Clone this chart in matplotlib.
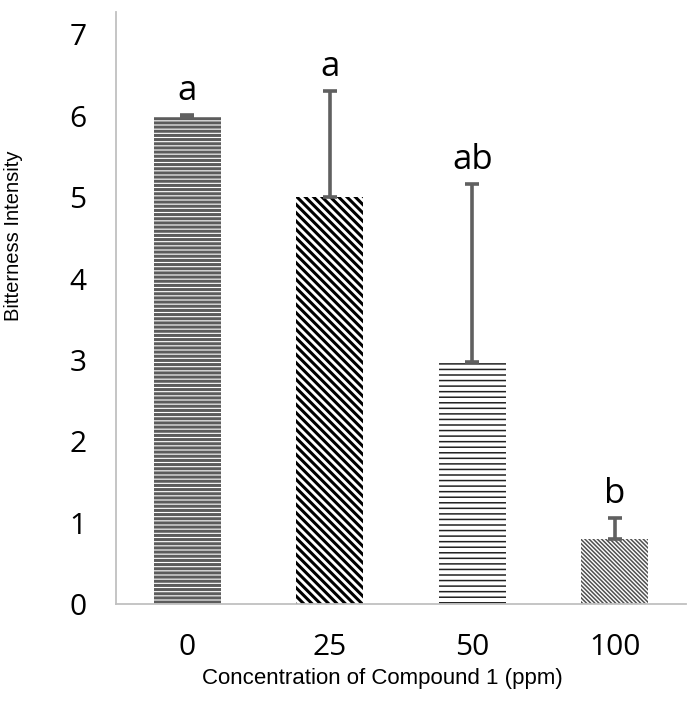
import matplotlib.pyplot as plt

# Data
concentrations = ["0", "25", "50", "100"]
intensity = [5.98, 5.0, 2.98, 0.8]
err_upper = [0.03, 1.3, 2.18, 0.26]
letters = ["a", "a", "ab", "b"]

# hatch style per bar: (pattern, line colour, line width)
hatches = [("----", "#5c5c5c", 2.2),
           ("\\\\\\\\", "black", 2.2),
           ("---", "#222222", 1.1),
           ("\\" * 8, "#505050", 1.1)]

fig = plt.figure(figsize=(6.89, 7.22), dpi=100)
ax = fig.add_axes([0.168, 0.163, 0.828, 0.820])

x = range(len(concentrations))
for i in x:
    pat, col, lw = hatches[i]
    with plt.rc_context({"hatch.linewidth": lw, "hatch.color": col}):
        b = ax.bar(i, intensity[i], width=0.47, color="white",
                   edgecolor=col, linewidth=0, hatch=pat)
    for p in b:
        if hasattr(p, "set_hatch_linewidth"):
            p.set_hatch_linewidth(lw)

ax.errorbar(list(x), intensity, yerr=[[0] * 4, err_upper], fmt="none",
            ecolor="#606060", elinewidth=2.6, capsize=5, capthick=2.6)

for i in x:
    ax.annotate(letters[i], (i, intensity[i] + err_upper[i]),
                xytext=(0, 11), textcoords="offset points",
                ha="center", va="baseline", fontsize=25,
                family="Open Sans")

ax.set_xlim(-0.5, 3.5)
ax.set_ylim(0, 7.27)
ax.set_yticks(range(8))
ax.set_xticks(list(x))
ax.set_xticklabels(concentrations)
ax.tick_params(length=0, labelsize=21.5)
ax.tick_params(axis="x", pad=21)
ax.tick_params(axis="y", pad=21)
for lab in ax.get_xticklabels() + ax.get_yticklabels():
    lab.set_family("Open Sans")

for s in ["top", "right"]:
    ax.spines[s].set_visible(False)
for s in ["left", "bottom"]:
    ax.spines[s].set_color("#c0c0c0")
    ax.spines[s].set_linewidth(1.3)

ax.set_ylabel("Bitterness Intensity", fontsize=14.5,
              family="Liberation Sans", va="center")
ax.yaxis.set_label_coords(-0.179, 0.622)
ax.set_xlabel("Concentration of Compound 1 (ppm)", fontsize=16,
              family="Liberation Sans", va="center")
ax.xaxis.set_label_coords(0.467, -0.125)

fig.savefig("out.png", dpi=100)
